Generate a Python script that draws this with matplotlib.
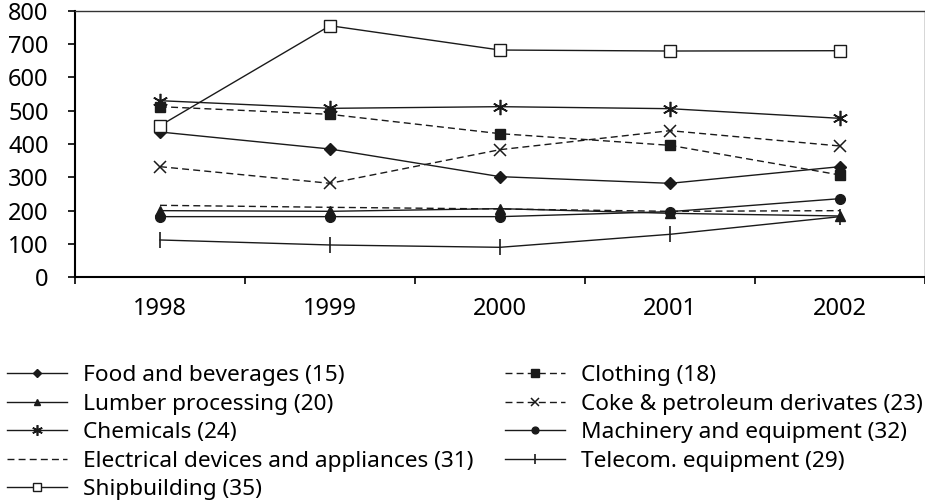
import numpy as np
import matplotlib
matplotlib.use('Agg')
import matplotlib.pyplot as plt

plt.rcParams['font.family'] = ['Noto Sans', 'DejaVu Sans']

years = ['1998', '1999', '2000', '2001', '2002']

food = [436, 385, 302, 282, 332]
lumber = [200, 198, 206, 192, 184]
chemicals = [530, 507, 512, 506, 477]
electrical = [216, 210, 205, 198, 200]
shipbuilding = [455, 755, 682, 679, 680]
clothing = [512, 489, 431, 396, 307]
coke = [332, 282, 383, 440, 394]
machinery = [182, 182, 182, 197, 236]
telecom = [112, 97, 90, 129, 182]

labels = [
    'Food and beverages (15)', 'Lumber processing (20)', 'Chemicals (24)',
    'Electrical devices and appliances (31)', 'Shipbuilding (35)',
    'Clothing (18)', 'Coke & petroleum derivates (23)',
    'Machinery and equipment (32)', 'Telecom. equipment (29)',
]

LC = '#1a1a1a'
SOLID = '-'
DASH = (0, (5, 3))

styles = [
    (food, SOLID, dict(marker='D', ms=6.5, mfc=LC, mec=LC)),
    (lumber, SOLID, dict(marker='^', ms=7, mfc=LC, mec=LC)),
    (chemicals, SOLID, dict(marker=(6, 2, 0), ms=11, mew=1.2, mec=LC)),
    (electrical, DASH, dict(marker='None')),
    (shipbuilding, SOLID, dict(marker='s', ms=8, mfc='white', mec=LC, mew=1.0)),
    (clothing, DASH, dict(marker='s', ms=7.5, mfc=LC, mec=LC)),
    (coke, DASH, dict(marker='x', ms=9, mew=1.1, mec=LC)),
    (machinery, SOLID, dict(marker='o', ms=7, mfc=LC, mec=LC)),
    (telecom, SOLID, dict(marker='|', ms=11, mew=1.2, mec=LC)),
]

fig = plt.figure(figsize=(9.25, 5.04), dpi=100)
ax = fig.add_axes([75 / 925, 1 - 277.3 / 504, 850 / 925, (277.3 - 10.7) / 504])

x = np.arange(1, len(years) + 1)
handles = []
for vals, ls, kw in styles:
    h, = ax.plot(x, vals, color=LC, lw=1.0, ls=ls, **kw)
    handles.append(h)

ax.set_xlim(0.5, 5.5)
ax.set_ylim(0, 800)
ax.set_yticks(range(0, 801, 100))
ax.set_xticks(x)
ax.set_xticklabels(years)
ax.set_xticks(np.arange(0.5, 5.6, 1), minor=True)
ax.tick_params(axis='x', which='major', length=0, pad=14, labelsize=17)
ax.tick_params(axis='x', which='minor', length=5, width=1.2, direction='out')
ax.tick_params(axis='y', length=5, width=1.2, pad=14, labelsize=17)

for s in ['left', 'bottom']:
    ax.spines[s].set_linewidth(1.5)
    ax.spines[s].set_color('black')
for s in ['top', 'right']:
    ax.spines[s].set_linewidth(1.0)
    ax.spines[s].set_color('#333333')

fig.legend(handles, labels, ncol=2, loc='upper left',
           bbox_to_anchor=(7 / 925, 1 - 365 / 504), frameon=False,
           fontsize=16.3, handlelength=2.65, handletextpad=0.7,
           columnspacing=1.4, labelspacing=0.335, borderpad=0, borderaxespad=0,
           markerscale=0.7)

plt.savefig('out.png', dpi=100)
